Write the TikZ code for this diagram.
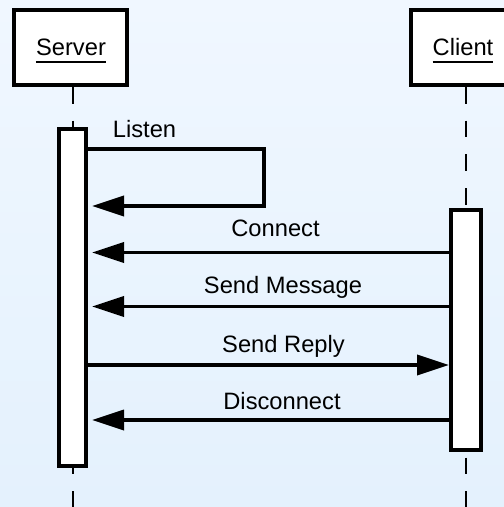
\documentclass[tikz,border=0pt]{standalone}
\usepackage{fontspec}
\setmainfont{Liberation Sans}
\usetikzlibrary{arrows.meta}
\definecolor{bgtop}{RGB}{240,247,255}
\definecolor{bgbot}{RGB}{228,241,253}
\begin{document}
\begin{tikzpicture}[x=1pt,y=-1pt,
  every node/.style={font=\fontsize{23.7}{28}\selectfont, inner sep=0pt},
  head/.style={draw=black, line width=4pt, fill=white, minimum height=75pt},
  act/.style={draw=black, line width=4pt, fill=white},
  life/.style={line width=2pt, dash pattern=on 16.5pt off 17.2pt},
  msg/.style={line width=3.5pt, -{Triangle[length=32pt,width=20pt]}},
  lbl/.style={anchor=base},
  uline/.style={line width=1.5pt}]
\useasboundingbox (0,0) rectangle (504,507);
\clip (0,0) rectangle (504,507);
% backdrop
\shade[top color=bgtop, bottom color=bgbot] (0,0) rectangle (504,507);

% participant heads (the client head runs off the right edge)
\node[head, minimum width=113pt] (srvHead) at (70.5,47.5) {};
\node[lbl] (srvName) at (71,55) {Server};
\draw[uline] ([yshift=-7pt]srvName.base west) -- ([yshift=-7pt]srvName.base east);
\node[head, minimum width=160pt] (cliHead) at (491,47.5) {};
\node[lbl] (cliName) at (463,55) {Client};
\draw[uline] ([yshift=-7pt]cliName.base west) -- ([yshift=-7pt]cliName.base east);

% lifelines
\coordinate (srvEnd) at (72.5,507);
\coordinate (cliEnd) at (466,507);
\draw[life] (srvHead.south -| srvEnd) -- (srvEnd);
\draw[life] (cliHead.south -| cliEnd) -- (cliEnd);

% activation bars
\node[act, minimum width=27pt, minimum height=337pt] (srvAct) at (72.5,297.5) {};
\node[act, minimum width=30pt, minimum height=240pt] (cliAct) at (466,330) {};

% messages
\coordinate (loopR) at (264,206);
\draw[msg] (srvAct.east |- 0,149) -| (loopR) -- ([xshift=4pt]srvAct.east |- loopR);
\node[lbl] (lListen) at (144.5,137) {Listen};

\draw[msg] (cliAct.west |- 0,252.5) -- ([xshift=4pt]srvAct.east |- 0,252.5);
\node[lbl] (lConnect) at (275.5,236) {Connect};

\draw[msg] (cliAct.west |- 0,306.5) -- ([xshift=4pt]srvAct.east |- 0,306.5);
\node[lbl] (lSend) at (283,293) {Send Message};

\draw[msg] (srvAct.east |- 0,365) -- (cliAct.west |- 0,365);
\node[lbl] (lReply) at (283.5,352.5) {Send Reply};

\draw[msg] (cliAct.west |- 0,420) -- ([xshift=4pt]srvAct.east |- 0,420);
\node[lbl] (lDisc) at (282,409) {Disconnect};
\end{tikzpicture}
\end{document}
